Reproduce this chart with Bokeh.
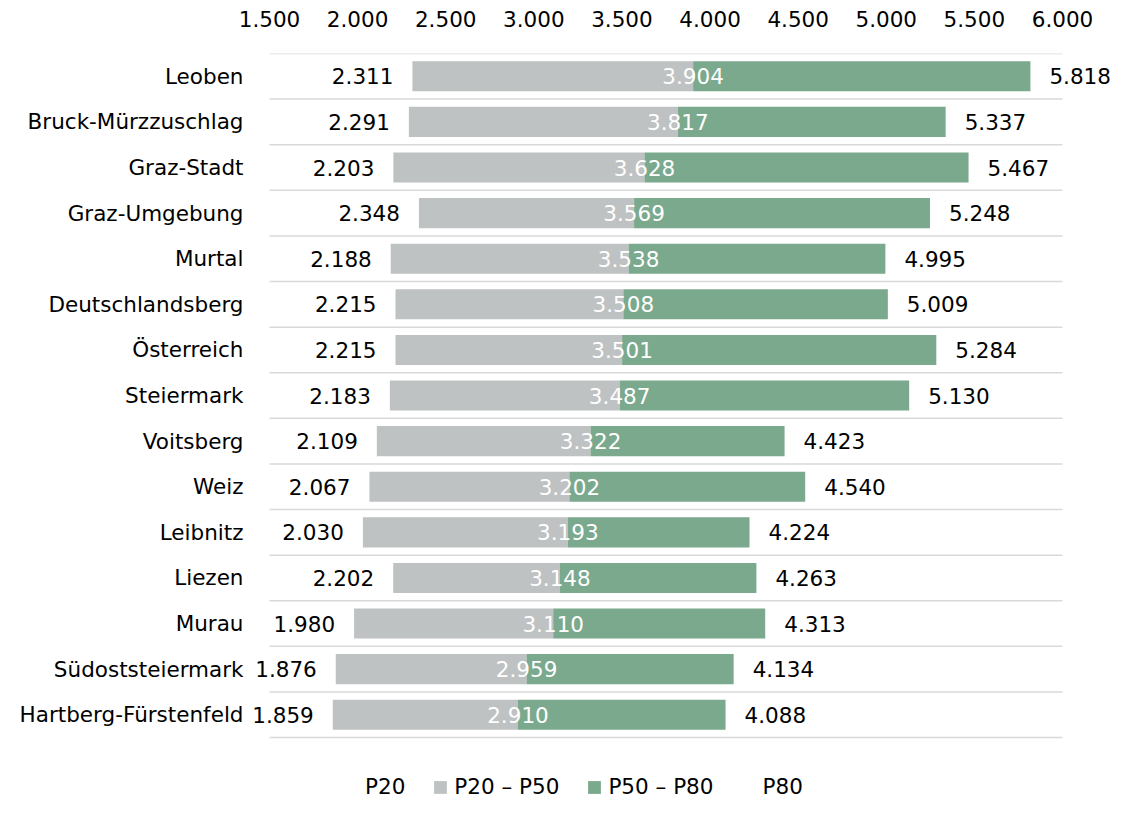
from bokeh.plotting import figure
from bokeh.models import Range1d, FixedTicker, Legend, LegendItem, ColumnDataSource
from bokeh.core.properties import value
from bokeh.embed import file_html
from bokeh.resources import INLINE

categories = ["Leoben", "Bruck-Mürzzuschlag", "Graz-Stadt", "Graz-Umgebung", "Murtal",
              "Deutschlandsberg", "Österreich", "Steiermark", "Voitsberg", "Weiz",
              "Leibnitz", "Liezen", "Murau", "Südoststeiermark", "Hartberg-Fürstenfeld"]
p20 = [2311, 2291, 2203, 2348, 2188, 2215, 2215, 2183, 2109, 2067, 2030, 2202, 1980, 1876, 1859]
p50 = [3904, 3817, 3628, 3569, 3538, 3508, 3501, 3487, 3322, 3202, 3193, 3148, 3110, 2959, 2910]
p80 = [5818, 5337, 5467, 5248, 4995, 5009, 5284, 5130, 4423, 4540, 4224, 4263, 4313, 4134, 4088]
tick_values = [1500, 2000, 2500, 3000, 3500, 4000, 4500, 5000, 5500, 6000]
tick_labels = ["1.500", "2.000", "2.500", "3.000", "3.500", "4.000", "4.500", "5.000", "5.500", "6.000"]
legend_labels = ["P20", "P20 \u2013 P50", "P50 \u2013 P80", "P80"]

def fmt(v):
    return f"{v:,}".replace(",", ".")

FONT = "DejaVu Sans"
FS = "21.5px"
GREY = "#BFC2C2"
GREEN = "#7BA98D"

idx = list(range(len(categories)))
src = ColumnDataSource(dict(
    y=idx, cat=categories, p20=p20, p50=p50, p80=p80,
    t20=[fmt(v) for v in p20], t50=[fmt(v) for v in p50], t80=[fmt(v) for v in p80],
    axis_x=[tick_values[0]] * len(idx),
))

p = figure(width=1121, height=800, output_backend="svg", toolbar_location=None,
           x_range=Range1d(-26.5, 6334.9), y_range=Range1d(15.88, -0.5),
           x_axis_location="above", y_axis_location=None,
           min_border_left=0, min_border_right=0, min_border_top=53, min_border_bottom=0)
p.outline_line_color = None
p.background_fill_color = "white"
p.border_fill_color = "white"
p.xgrid.visible = False
p.ygrid.visible = False

ax = p.xaxis[0]
ax.ticker = FixedTicker(ticks=tick_values)
ax.major_label_overrides = {v: l for v, l in zip(tick_values, tick_labels)}
ax.axis_line_color = None
ax.major_tick_line_color = None
ax.minor_tick_line_color = None
ax.major_label_text_font = FONT
ax.major_label_text_font_size = FS
ax.major_label_text_color = "black"
ax.major_label_standoff = 21

# category separator lines
bounds = [i - 0.5 for i in range(len(categories) + 1)]
p.segment(x0=[tick_values[0]] * len(bounds), x1=[tick_values[-1]] * len(bounds),
          y0=bounds, y1=bounds, line_color="#D9D9D9", line_width=1.5)

r_lo = p.hbar(y="y", left="p20", right="p50", height=0.66, source=src,
              fill_color=GREY, line_color=None)
r_hi = p.hbar(y="y", left="p50", right="p80", height=0.66, source=src,
              fill_color=GREEN, line_color=None)
r_none1 = p.hbar(y=[], left=[], right=[], height=0.66, fill_alpha=0, line_alpha=0)
r_none2 = p.hbar(y=[], left=[], right=[], height=0.66, fill_alpha=0, line_alpha=0)

common = dict(source=src, text_font=value(FONT), text_font_size=FS, text_baseline="middle")
p.text(x="axis_x", y="y", text="cat", text_align="right", x_offset=-26, text_color="black", **common)
p.text(x="p20", y="y", text="t20", text_align="right", x_offset=-19, text_color="black", **common)
p.text(x="p50", y="y", text="t50", text_align="center", text_color="white", **common)
p.text(x="p80", y="y", text="t80", text_align="left", x_offset=19, text_color="black", **common)

legend = Legend(items=[
    LegendItem(label=legend_labels[0], renderers=[r_none1]),
    LegendItem(label=legend_labels[1], renderers=[r_lo]),
    LegendItem(label=legend_labels[2], renderers=[r_hi]),
    LegendItem(label=legend_labels[3], renderers=[r_none2]),
], orientation="horizontal", location=(343, 1))
legend.glyph_width = 16
legend.glyph_height = 16
legend.label_standoff = 6
legend.spacing = 27
legend.padding = 0
legend.margin = 0
legend.border_line_color = None
legend.background_fill_alpha = 0
legend.label_text_font = FONT
legend.label_text_font_size = FS
legend.label_text_color = "black"
p.add_layout(legend, "center")

open("out.html", "w").write(file_html(p, INLINE))
